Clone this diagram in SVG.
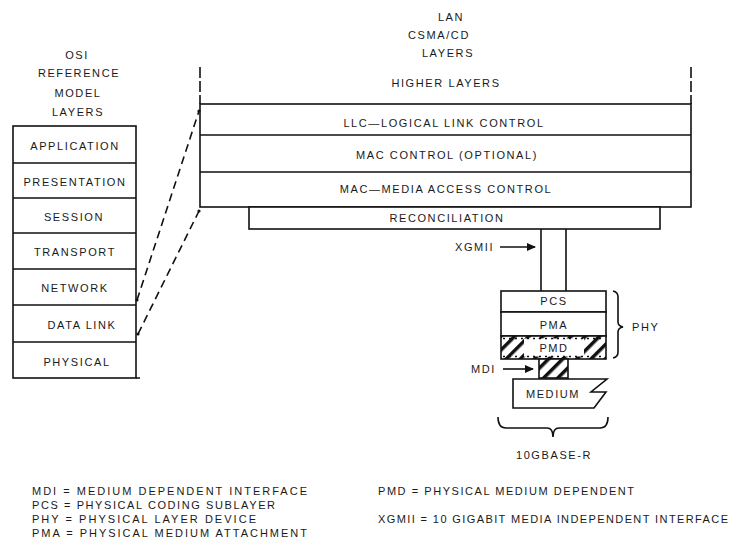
<svg xmlns="http://www.w3.org/2000/svg" width="732" height="547" viewBox="0 0 732 547">
<style>
text{font-family:"Liberation Sans",Arial,sans-serif;font-size:11px;fill:#1a1a1a;letter-spacing:1.6px}
.c{text-anchor:middle}
.box{fill:#fff;stroke:#111;stroke-width:1.6}
.ln{fill:none;stroke:#111;stroke-width:1.6}
.dash{fill:none;stroke:#111;stroke-width:1.6;stroke-dasharray:8 5}
.vd{fill:none;stroke:#111;stroke-width:1.6;stroke-dasharray:11 3}
.dot{fill:#111}
.lg{letter-spacing:0}
</style>
<defs>
<pattern id="hatch" width="10" height="10" patternUnits="userSpaceOnUse" patternTransform="rotate(45)"><rect width="10" height="10" fill="#fff"/><rect width="3.5" height="10" fill="#111"/></pattern>
<marker id="arr" markerWidth="9" markerHeight="8" refX="8" refY="4" orient="auto" markerUnits="userSpaceOnUse"><path d="M0,0 L9,4 L0,8 z" fill="#111"/></marker>
</defs>

<g id="osi-title">
<text class="c" x="77" y="59">OSI</text>
<text class="c" x="79" y="77">REFERENCE</text>
<text class="c" x="78" y="97">MODEL</text>
<text class="c" x="78" y="116">LAYERS</text>
</g>
<g id="osi-stack">
<rect class="box" x="13" y="126" width="123" height="252"/>
<path class="ln" d="M13,163H136M13,198H136M13,233H136M13,269H136M13,305H136M13,342H136M136,378H140"/>
<text class="c" x="75" y="150">APPLICATION</text>
<text class="c" x="75" y="186">PRESENTATION</text>
<text class="c" x="74" y="221">SESSION</text>
<text class="c" x="75" y="256">TRANSPORT</text>
<text class="c" x="75" y="292">NETWORK</text>
<text class="c" x="82" y="329">DATA LINK</text>
<text class="c" x="77" y="366">PHYSICAL</text>
</g>

<g id="lan-title">
<text class="c" x="451" y="21">LAN</text>
<text class="c" x="439" y="39">CSMA/CD</text>
<text class="c" x="448" y="57">LAYERS</text>
</g>
<g id="higher-layers">
<path class="vd" d="M200,67V104M691,67V104"/>
<text class="c" x="446" y="87">HIGHER LAYERS</text>
</g>
<g id="lan-stack">
<rect class="box" x="200" y="104" width="491" height="103"/>
<path class="ln" d="M200,135H691M200,172H691"/>
<text class="c" x="444" y="127">LLC—LOGICAL LINK CONTROL</text>
<text class="c" x="447" y="159">MAC CONTROL (OPTIONAL)</text>
<text class="c" x="446" y="193">MAC—MEDIA ACCESS CONTROL</text>
</g>
<g id="reconciliation">
<rect class="box" x="249" y="207" width="411" height="22"/>
<text class="c" x="447" y="222">RECONCILIATION</text>
</g>

<g id="connectors">
<path class="dash" d="M137,300L199,111"/>
<path class="dash" d="M138,334L199,211"/>
<circle class="dot" cx="137" cy="300" r="1.6"/>
<circle class="dot" cx="199" cy="111" r="1.6"/>
<circle class="dot" cx="138" cy="334" r="1.6"/>
<circle class="dot" cx="199" cy="211" r="1.6"/>
<path class="ln" d="M541,229V291M566,229V291"/>
<path class="ln" d="M500,247H535" marker-end="url(#arr)"/>
<path class="ln" d="M503,369H533" marker-end="url(#arr)"/>
</g>

<g id="xgmii-label"><text x="455" y="251">XGMII</text></g>
<g id="mdi-label"><text x="471" y="373">MDI</text></g>

<g id="pcs">
<rect class="box" x="501" y="291" width="105" height="21"/>
<text class="c" x="554" y="305">PCS</text>
</g>
<g id="pma">
<rect class="box" x="501" y="312" width="105" height="24"/>
<text class="c" x="554" y="329">PMA</text>
</g>
<g id="pmd">
<rect x="501" y="336" width="105" height="23" fill="url(#hatch)" stroke="none"/>
<rect x="524" y="338.5" width="60" height="18" fill="#fff"/>
<path d="M503,338.5H604M503,356.5H604" fill="none" stroke="#111" stroke-width="1.6" stroke-dasharray="2 4"/>
<rect x="501" y="336" width="105" height="23" fill="none" stroke="#111" stroke-width="1.6"/>
<text class="c" x="554" y="352">PMD</text>
</g>
<g id="mdi">
<rect x="539" y="359" width="29" height="19" fill="url(#hatch)" stroke="#111" stroke-width="1.6"/>
</g>
<g id="medium">
<path class="box" d="M513,379H607L591,392H606L594,408H513Z"/>
<text class="c" x="553" y="398">MEDIUM</text>
</g>
<g id="phy">
<path class="ln" d="M613,291Q618,292 618,297V322Q618,326 623,327Q618,328 618,332V352Q618,357 613,358"/>
<text x="632" y="331">PHY</text>
</g>
<g id="tenGbaseR">
<path class="ln" d="M498,417Q498,428 506,428H547Q553,428 553,437Q553,428 559,428H600Q608,428 608,417"/>
<text class="c" x="554" y="459">10GBASE-R</text>
</g>

<g id="legend">
<text class="lg" x="32" y="495" textLength="275" lengthAdjust="spacing">MDI = MEDIUM DEPENDENT INTERFACE</text>
<text class="lg" x="32" y="509" textLength="243" lengthAdjust="spacing">PCS = PHYSICAL CODING SUBLAYER</text>
<text class="lg" x="32" y="523" textLength="224" lengthAdjust="spacing">PHY = PHYSICAL LAYER DEVICE</text>
<text class="lg" x="32" y="537" textLength="275" lengthAdjust="spacing">PMA = PHYSICAL MEDIUM ATTACHMENT</text>
<text class="lg" x="378" y="495" textLength="256" lengthAdjust="spacing">PMD = PHYSICAL MEDIUM DEPENDENT</text>
<text class="lg" x="378" y="523" textLength="350" lengthAdjust="spacing">XGMII = 10 GIGABIT MEDIA INDEPENDENT INTERFACE</text>
</g>
</svg>
